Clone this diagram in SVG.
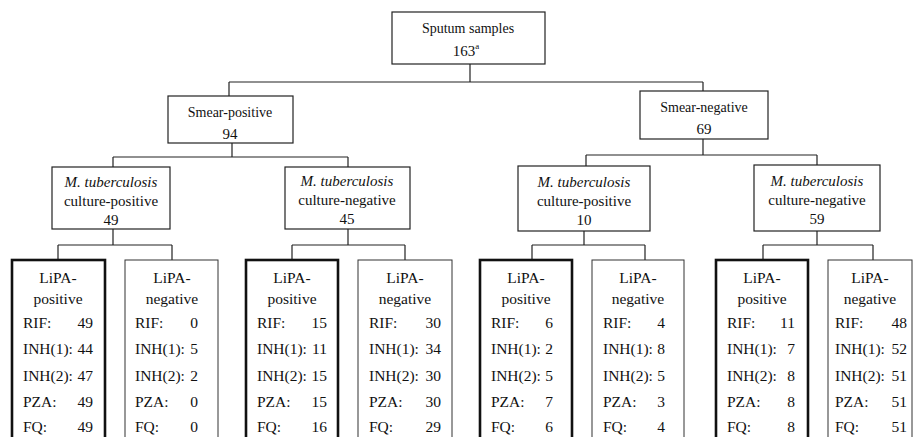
<svg xmlns="http://www.w3.org/2000/svg" width="913" height="437" viewBox="0 0 913 437">
<style>
.bg{fill:#fff}
.box{fill:#fff;stroke:#222;stroke-width:1.2}
.thick{fill:#fff;stroke:#111;stroke-width:2.6}
.thin{fill:#fff;stroke:#333;stroke-width:1}
text{font-family:'Liberation Serif','DejaVu Serif',serif;fill:#111}
.t{font-size:15px;text-anchor:middle}
.s{font-size:14px;text-anchor:middle}
.i{font-style:italic}
.l{font-size:15.5px}
.r{text-anchor:end}
.c{text-anchor:middle}
.con{fill:none;stroke:#222;stroke-width:1.2}
</style>
<rect class="bg" x="0" y="0" width="913" height="437"/>
<g id="connectors">
<path class="con" d="M470 64V82M229 82H703M229 82V96M703 82V91"/>
<path class="con" d="M232 143V157M113 157H348M113 157V167M348 157V167"/>
<path class="con" d="M703 139V155M586 155H817M586 155V166M817 155V165"/>
<path class="con" d="M113 229V245M58 245H172M58 245V260M172 245V260"/>
<path class="con" d="M348 229V245M292 245H405M292 245V260M405 245V260"/>
<path class="con" d="M584 231V245M532 245H645M532 245V260M645 245V260"/>
<path class="con" d="M817 231V245M763 245H873M763 245V260M873 245V260"/>
</g>
<g id="sputum">
<rect class="box" x="392" y="12" width="153" height="52"/>
<text class="s" x="468" y="33">Sputum samples</text>
<text class="t" x="466" y="56">163<tspan font-size="9" dy="-7">a</tspan></text>
</g>
<g id="smear-pos">
<rect class="box" x="168" y="96" width="125" height="47"/>
<text class="s" x="230" y="117">Smear-positive</text>
<text class="t" x="230" y="139">94</text>
</g>
<g id="smear-neg">
<rect class="box" x="640" y="91" width="128" height="48"/>
<text class="s" x="704" y="112">Smear-negative</text>
<text class="t" x="704" y="134">69</text>
</g>
<g id="cult-pos-1">
<rect class="box" x="52" y="167" width="118" height="62"/>
<text class="t i" x="111" y="187">M. tuberculosis</text>
<text class="t" x="111" y="206">culture-positive</text>
<text class="t" x="111" y="225">49</text>
</g>
<g id="cult-neg-1">
<rect class="box" x="285" y="167" width="125" height="62"/>
<text class="t i" x="347" y="186">M. tuberculosis</text>
<text class="t" x="347" y="205">culture-negative</text>
<text class="t" x="347" y="224">45</text>
</g>
<g id="cult-pos-2">
<rect class="box" x="518" y="166" width="132" height="65"/>
<text class="t i" x="584" y="187">M. tuberculosis</text>
<text class="t" x="584" y="206">culture-positive</text>
<text class="t" x="584" y="225">10</text>
</g>
<g id="cult-neg-2">
<rect class="box" x="754" y="165" width="126" height="66"/>
<text class="t i" x="817" y="186">M. tuberculosis</text>
<text class="t" x="817" y="205">culture-negative</text>
<text class="t" x="817" y="224">59</text>
</g>
<g id="lipa-pos-1">
<rect class="thick" x="12" y="260" width="93" height="180"/>
<text class="l c" x="58" y="283">LiPA-</text>
<text class="l c" x="58" y="304">positive</text>
<text class="l" x="23" y="328">RIF:</text><text class="l r" x="93" y="328">49</text>
<text class="l" x="23" y="354">INH(1):</text><text class="l r" x="93" y="354">44</text>
<text class="l" x="23" y="381">INH(2):</text><text class="l r" x="93" y="381">47</text>
<text class="l" x="23" y="407">PZA:</text><text class="l r" x="93" y="407">49</text>
<text class="l" x="23" y="432">FQ:</text><text class="l r" x="93" y="432">49</text>
</g>
<g id="lipa-neg-1">
<rect class="thin" x="125" y="260" width="93" height="180"/>
<text class="l c" x="172" y="283">LiPA-</text>
<text class="l c" x="172" y="304">negative</text>
<text class="l" x="135" y="328">RIF:</text><text class="l r" x="198" y="328">0</text>
<text class="l" x="135" y="354">INH(1):</text><text class="l r" x="198" y="354">5</text>
<text class="l" x="135" y="381">INH(2):</text><text class="l r" x="198" y="381">2</text>
<text class="l" x="135" y="407">PZA:</text><text class="l r" x="198" y="407">0</text>
<text class="l" x="135" y="432">FQ:</text><text class="l r" x="198" y="432">0</text>
</g>
<g id="lipa-pos-2">
<rect class="thick" x="246" y="260" width="92" height="180"/>
<text class="l c" x="292" y="283">LiPA-</text>
<text class="l c" x="292" y="304">positive</text>
<text class="l" x="257" y="328">RIF:</text><text class="l r" x="327" y="328">15</text>
<text class="l" x="257" y="354">INH(1):</text><text class="l r" x="327" y="354">11</text>
<text class="l" x="257" y="381">INH(2):</text><text class="l r" x="327" y="381">15</text>
<text class="l" x="257" y="407">PZA:</text><text class="l r" x="327" y="407">15</text>
<text class="l" x="257" y="432">FQ:</text><text class="l r" x="327" y="432">16</text>
</g>
<g id="lipa-neg-2">
<rect class="thin" x="358" y="260" width="94" height="180"/>
<text class="l c" x="405" y="283">LiPA-</text>
<text class="l c" x="405" y="304">negative</text>
<text class="l" x="369" y="328">RIF:</text><text class="l r" x="441" y="328">30</text>
<text class="l" x="369" y="354">INH(1):</text><text class="l r" x="441" y="354">34</text>
<text class="l" x="369" y="381">INH(2):</text><text class="l r" x="441" y="381">30</text>
<text class="l" x="369" y="407">PZA:</text><text class="l r" x="441" y="407">30</text>
<text class="l" x="369" y="432">FQ:</text><text class="l r" x="441" y="432">29</text>
</g>
<g id="lipa-pos-3">
<rect class="thick" x="480" y="260" width="92" height="180"/>
<text class="l c" x="526" y="283">LiPA-</text>
<text class="l c" x="526" y="304">positive</text>
<text class="l" x="491" y="328">RIF:</text><text class="l r" x="553" y="328">6</text>
<text class="l" x="491" y="354">INH(1):</text><text class="l r" x="553" y="354">2</text>
<text class="l" x="491" y="381">INH(2):</text><text class="l r" x="553" y="381">5</text>
<text class="l" x="491" y="407">PZA:</text><text class="l r" x="553" y="407">7</text>
<text class="l" x="491" y="432">FQ:</text><text class="l r" x="553" y="432">6</text>
</g>
<g id="lipa-neg-3">
<rect class="thin" x="592" y="260" width="92" height="180"/>
<text class="l c" x="638" y="283">LiPA-</text>
<text class="l c" x="638" y="304">negative</text>
<text class="l" x="603" y="328">RIF:</text><text class="l r" x="665" y="328">4</text>
<text class="l" x="603" y="354">INH(1):</text><text class="l r" x="665" y="354">8</text>
<text class="l" x="603" y="381">INH(2):</text><text class="l r" x="665" y="381">5</text>
<text class="l" x="603" y="407">PZA:</text><text class="l r" x="665" y="407">3</text>
<text class="l" x="603" y="432">FQ:</text><text class="l r" x="665" y="432">4</text>
</g>
<g id="lipa-pos-4">
<rect class="thick" x="716" y="260" width="92" height="180"/>
<text class="l c" x="762" y="283">LiPA-</text>
<text class="l c" x="762" y="304">positive</text>
<text class="l" x="727" y="328">RIF:</text><text class="l r" x="795" y="328">11</text>
<text class="l" x="727" y="354">INH(1):</text><text class="l r" x="795" y="354">7</text>
<text class="l" x="727" y="381">INH(2):</text><text class="l r" x="795" y="381">8</text>
<text class="l" x="727" y="407">PZA:</text><text class="l r" x="795" y="407">8</text>
<text class="l" x="727" y="432">FQ:</text><text class="l r" x="795" y="432">8</text>
</g>
<g id="lipa-neg-4">
<rect class="thin" x="828" y="260" width="84" height="180"/>
<text class="l c" x="870" y="283">LiPA-</text>
<text class="l c" x="870" y="304">negative</text>
<text class="l" x="835" y="328">RIF:</text><text class="l r" x="907" y="328">48</text>
<text class="l" x="835" y="354">INH(1):</text><text class="l r" x="907" y="354">52</text>
<text class="l" x="835" y="381">INH(2):</text><text class="l r" x="907" y="381">51</text>
<text class="l" x="835" y="407">PZA:</text><text class="l r" x="907" y="407">51</text>
<text class="l" x="835" y="432">FQ:</text><text class="l r" x="907" y="432">51</text>
</g>
</svg>
